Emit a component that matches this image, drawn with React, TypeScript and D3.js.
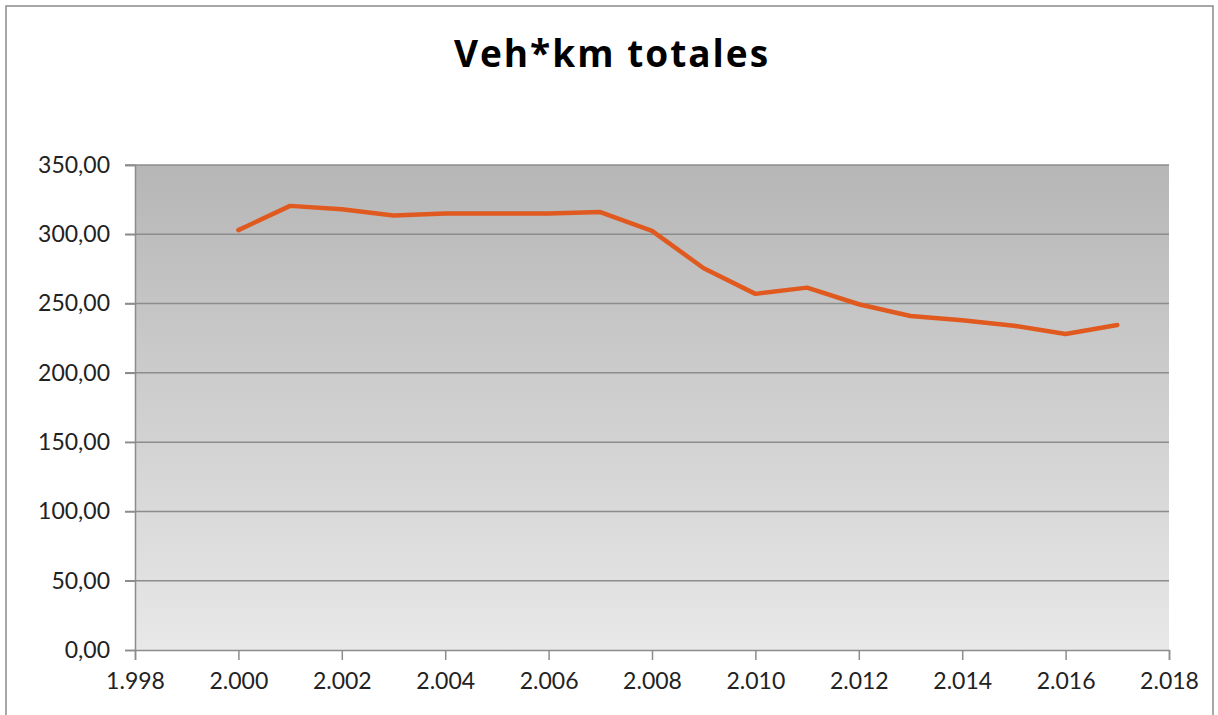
import React, { useEffect, useRef } from "react";
import * as d3 from "d3";

// years and values
const years = [2000, 2001, 2002, 2003, 2004, 2005, 2006, 2007, 2008, 2009, 2010, 2011, 2012, 2013, 2014, 2015, 2016, 2017];
const vehKm = [303, 320.5, 318, 313.5, 315, 315, 315, 316, 302.5, 275.5, 257, 261.5, 249.5, 241, 238, 234, 228, 234.5];
const xTicks = [1998, 2000, 2002, 2004, 2006, 2008, 2010, 2012, 2014, 2016, 2018];
const yTicks = [0, 50, 100, 150, 200, 250, 300, 350];

const W = 1218;
const H = 715;
const m = { top: 165, right: 49, bottom: 65, left: 135 };
const font = "Lato, 'Open Sans', sans-serif";

export default function App() {
  const ref = useRef<SVGSVGElement>(null);

  useEffect(() => {
    const svg = d3.select(ref.current);
    svg.selectAll("*").remove();

    const x = d3.scaleLinear().domain([1998, 2018]).range([m.left, W - m.right]);
    const y = d3.scaleLinear().domain([0, 350]).range([H - m.bottom, m.top]);

    const defs = svg.append("defs");
    const grad = defs
      .append("linearGradient")
      .attr("id", "bg")
      .attr("x1", 0)
      .attr("y1", 0)
      .attr("x2", 0)
      .attr("y2", 1);
    grad.append("stop").attr("offset", "0%").attr("stop-color", "#b6b6b6");
    grad.append("stop").attr("offset", "100%").attr("stop-color", "#e8e8e8");

    // chart frame
    svg
      .append("rect")
      .attr("x", 6)
      .attr("y", 6)
      .attr("width", 1207)
      .attr("height", 720)
      .attr("fill", "#fff")
      .attr("stroke", "#8a8a8a")
      .attr("stroke-width", 1.5);

    // plot area
    svg
      .append("rect")
      .attr("x", x(1998))
      .attr("y", y(350))
      .attr("width", x(2018) - x(1998))
      .attr("height", y(0) - y(350))
      .attr("fill", "url(#bg)");

    // gridlines
    svg
      .append("g")
      .selectAll("line")
      .data(yTicks.filter((d) => d > 0))
      .join("line")
      .attr("x1", x(1998) - 10)
      .attr("x2", x(2018))
      .attr("y1", (d) => y(d))
      .attr("y2", (d) => y(d))
      .attr("stroke", "#8c8c8c")
      .attr("stroke-width", 1.5);

    // y axis
    const yAxis = d3
      .axisLeft(y)
      .tickValues(yTicks)
      .tickSize(10)
      .tickPadding(15)
      .tickFormat((d) => d3.format(".2f")(d as number).replace(".", ","));
    const gy = svg.append("g").attr("transform", `translate(${x(1998)},0)`).call(yAxis);
    gy.select(".domain").attr("stroke", "#8c8c8c").attr("stroke-width", 1.5);
    gy.selectAll(".tick line").attr("stroke", "#8c8c8c").attr("stroke-width", 1.5);
    gy.selectAll(".tick text")
      .attr("fill", "#222")
      .style("font-family", font)
      .style("font-size", "23px");

    // x axis
    const xAxis = d3
      .axisBottom(x)
      .tickValues(xTicks)
      .tickSize(10)
      .tickPadding(13)
      .tickFormat((d) => d3.format(",")(d as number).replace(",", "."));
    const gx = svg.append("g").attr("transform", `translate(0,${y(0)})`).call(xAxis);
    gx.select(".domain").attr("stroke", "#8c8c8c").attr("stroke-width", 1.5);
    gx.selectAll(".tick line").attr("stroke", "#8c8c8c").attr("stroke-width", 1.5);
    gx.selectAll(".tick text")
      .attr("fill", "#222")
      .style("font-family", font)
      .style("font-size", "23px");

    // series
    const line = d3
      .line<number>()
      .x((d, i) => x(years[i]))
      .y((d) => y(d));
    svg
      .append("path")
      .datum(vehKm)
      .attr("fill", "none")
      .attr("stroke", "#e05a20")
      .attr("stroke-width", 4.5)
      .attr("stroke-linejoin", "round")
      .attr("stroke-linecap", "round")
      .attr("d", line);

    // title
    svg
      .append("text")
      .attr("x", 612)
      .attr("y", 67)
      .attr("text-anchor", "middle")
      .style("font-family", "'Open Sans', Lato, sans-serif")
      .style("font-weight", "bold")
      .style("font-size", "37px")
      .style("letter-spacing", "2px")
      .attr("fill", "#000")
      .text("Veh*km totales");
  }, []);

  return (
    <svg
      ref={ref}
      width={W}
      height={H}
      style={{ position: "absolute", left: 0, top: 0, background: "#fff" }}
    />
  );
}
